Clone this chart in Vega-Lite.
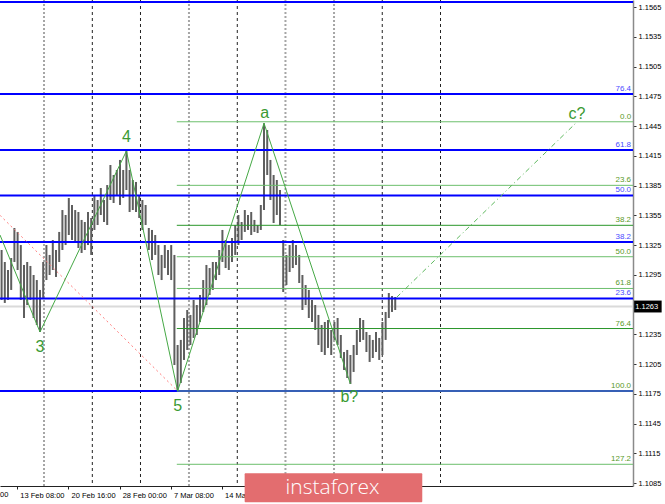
{
"$schema": "https://vega.github.io/schema/vega-lite/v6.json",
"width": 633, "height": 486,
"autosize": {"type": "none"},
"padding": {"left": 0, "top": 0, "right": 32, "bottom": 18},
"background": "white",
"config": {"view": {"stroke": null}},
"resolve": {"axis": {"x": "independent", "y": "independent"}},
"datasets": {
"candles": [
{"b":1,"hi":1.13200,"lo":1.12696},{"b":3,"hi":1.13079,"lo":1.12666},{"b":5,"hi":1.12998,"lo":1.12696},{"b":7,"hi":1.13119,"lo":1.12797},
{"b":9,"hi":1.13422,"lo":1.13079},{"b":11,"hi":1.13382,"lo":1.12998},{"b":13,"hi":1.13250,"lo":1.12696},{"b":15,"hi":1.13049,"lo":1.12514},
{"b":17,"hi":1.13079,"lo":1.12645},{"b":19,"hi":1.13039,"lo":1.12696},{"b":21,"hi":1.12948,"lo":1.12514},{"b":23,"hi":1.12897,"lo":1.12444},
{"b":25,"hi":1.12797,"lo":1.12373},{"b":27,"hi":1.13079,"lo":1.12716},{"b":29,"hi":1.13250,"lo":1.12897},{"b":31,"hi":1.13150,"lo":1.12948},
{"b":33,"hi":1.13301,"lo":1.12998},{"b":35,"hi":1.13200,"lo":1.12928},{"b":37,"hi":1.13382,"lo":1.13079},{"b":39,"hi":1.13603,"lo":1.13200},
{"b":41,"hi":1.13553,"lo":1.13250},{"b":43,"hi":1.13724,"lo":1.13351},{"b":45,"hi":1.13654,"lo":1.13301},{"b":47,"hi":1.13603,"lo":1.13271},
{"b":49,"hi":1.13583,"lo":1.13220},{"b":51,"hi":1.13503,"lo":1.13170},{"b":53,"hi":1.13482,"lo":1.13200},{"b":55,"hi":1.13583,"lo":1.13250},
{"b":57,"hi":1.13523,"lo":1.13150},{"b":59,"hi":1.13755,"lo":1.13402},{"b":61,"hi":1.13704,"lo":1.13452},{"b":63,"hi":1.13825,"lo":1.13553},
{"b":65,"hi":1.13704,"lo":1.13482},{"b":67,"hi":1.13855,"lo":1.13452},{"b":69,"hi":1.14057,"lo":1.13704},{"b":71,"hi":1.13956,"lo":1.13674},
{"b":73,"hi":1.14007,"lo":1.13755},{"b":75,"hi":1.14108,"lo":1.13654},{"b":77,"hi":1.14007,"lo":1.13724},{"b":79,"hi":1.14198,"lo":1.13805},
{"b":81,"hi":1.14007,"lo":1.13583},{"b":83,"hi":1.13906,"lo":1.13603},{"b":85,"hi":1.13886,"lo":1.13583},{"b":87,"hi":1.13755,"lo":1.13523},
{"b":89,"hi":1.13704,"lo":1.13402},{"b":91,"hi":1.13654,"lo":1.13452},{"b":93,"hi":1.13422,"lo":1.13200},{"b":95,"hi":1.13402,"lo":1.13099},
{"b":97,"hi":1.13351,"lo":1.13150},{"b":99,"hi":1.13250,"lo":1.12948},{"b":101,"hi":1.13150,"lo":1.12897},{"b":103,"hi":1.13250,"lo":1.13018},
{"b":105,"hi":1.13200,"lo":1.12948},{"b":107,"hi":1.13250,"lo":1.12897},{"b":109,"hi":1.13150,"lo":1.12040},{"b":111,"hi":1.12242,"lo":1.11778},
{"b":113,"hi":1.12293,"lo":1.11859},{"b":115,"hi":1.12514,"lo":1.12091},{"b":117,"hi":1.12595,"lo":1.12192},{"b":119,"hi":1.12545,"lo":1.12242},
{"b":121,"hi":1.12696,"lo":1.12313},{"b":123,"hi":1.12645,"lo":1.12343},{"b":125,"hi":1.12746,"lo":1.12474},{"b":127,"hi":1.12897,"lo":1.12575},
{"b":129,"hi":1.13049,"lo":1.12645},{"b":131,"hi":1.13018,"lo":1.12746},{"b":133,"hi":1.13079,"lo":1.12797},{"b":135,"hi":1.13079,"lo":1.12897},
{"b":137,"hi":1.13200,"lo":1.12948},{"b":139,"hi":1.13402,"lo":1.13079},{"b":141,"hi":1.13301,"lo":1.13018},{"b":143,"hi":1.13250,"lo":1.12998},
{"b":145,"hi":1.13321,"lo":1.13079},{"b":147,"hi":1.13452,"lo":1.13150},{"b":149,"hi":1.13553,"lo":1.13250},{"b":151,"hi":1.13482,"lo":1.13301},
{"b":153,"hi":1.13603,"lo":1.13382},{"b":155,"hi":1.13553,"lo":1.13402},{"b":157,"hi":1.13583,"lo":1.13351},{"b":159,"hi":1.13503,"lo":1.13382},
{"b":161,"hi":1.13452,"lo":1.13371},{"b":163,"hi":1.13654,"lo":1.13402},{"b":165,"hi":1.14478,"lo":1.13603},{"b":167,"hi":1.14410,"lo":1.13956},
{"b":169,"hi":1.14108,"lo":1.13704},{"b":171,"hi":1.13956,"lo":1.13472},{"b":173,"hi":1.13906,"lo":1.13553},{"b":175,"hi":1.13805,"lo":1.13452},
{"b":177,"hi":1.13301,"lo":1.12776},{"b":179,"hi":1.13150,"lo":1.12847},{"b":181,"hi":1.13250,"lo":1.12978},{"b":183,"hi":1.13301,"lo":1.13018},
{"b":185,"hi":1.13250,"lo":1.13049},{"b":187,"hi":1.13150,"lo":1.12867},{"b":189,"hi":1.12948,"lo":1.12595},{"b":191,"hi":1.12847,"lo":1.12645},
{"b":193,"hi":1.12797,"lo":1.12514},{"b":195,"hi":1.12696,"lo":1.12474},{"b":197,"hi":1.12645,"lo":1.12393},{"b":199,"hi":1.12545,"lo":1.12242},
{"b":201,"hi":1.12444,"lo":1.12171},{"b":203,"hi":1.12474,"lo":1.12141},{"b":205,"hi":1.12494,"lo":1.12212},{"b":207,"hi":1.12393,"lo":1.12141},
{"b":209,"hi":1.12474,"lo":1.12293},{"b":211,"hi":1.12514,"lo":1.12242},{"b":213,"hi":1.12343,"lo":1.12111},{"b":215,"hi":1.12171,"lo":1.11990},
{"b":217,"hi":1.12192,"lo":1.11909},{"b":219,"hi":1.12141,"lo":1.11849},{"b":221,"hi":1.12242,"lo":1.11970},{"b":223,"hi":1.12393,"lo":1.12141},
{"b":225,"hi":1.12514,"lo":1.12272},{"b":227,"hi":1.12494,"lo":1.12293},{"b":229,"hi":1.12373,"lo":1.12171},{"b":231,"hi":1.12343,"lo":1.12071},
{"b":233,"hi":1.12293,"lo":1.12111},{"b":235,"hi":1.12373,"lo":1.12171},{"b":237,"hi":1.12313,"lo":1.12091},{"b":239,"hi":1.12474,"lo":1.12141},
{"b":241,"hi":1.12575,"lo":1.12293},{"b":243,"hi":1.12766,"lo":1.12514},{"b":245,"hi":1.12736,"lo":1.12575},{"b":247,"hi":1.12726,"lo":1.12595}
],
"waves": [{"b":0,"p":1.13351},{"b":25,"p":1.12373},{"b":79,"p":1.14198},{"b":111,"p":1.11778},{"b":165,"p":1.14478},{"b":219,"p":1.11849}],
"target": [{"b":247.9,"p":1.12723},{"b":360.4,"p":1.14488}],
"red": [{"b":0,"p":1.13550},{"b":111,"p":1.11778}],
"waveLabels": [{"t":"3","b":25,"p":1.12222},{"t":"4","b":79,"p":1.14343},{"t":"5","b":111,"p":1.11627},{"t":"a","b":165.4,"p":1.14580},{"t":"b?","b":218.3,"p":1.11718},{"t":"c?","b":360.6,"p":1.14575}],
"fibGreen": [{"lvl":"0.0","p":1.14493,"b0":110.5},{"lvl":"23.6","p":1.13852,"b0":110.5},{"lvl":"38.2","p":1.13449,"b0":110.5},{"lvl":"50.0","p":1.13132,"b0":110.5},{"lvl":"61.8","p":1.12812,"b0":110.5},{"lvl":"76.4","p":1.12408,"b0":110.5},{"lvl":"100.0","p":1.11778,"b0":110.5},{"lvl":"127.2","p":1.11039,"b0":110.5}],
"fibBlue": [{"lvl":"100.0","p":1.15701},{"lvl":"76.4","p":1.14773},{"lvl":"61.8","p":1.14208},{"lvl":"50.0","p":1.13750},{"lvl":"38.2","p":1.13281},{"lvl":"23.6","p":1.12711},{"lvl":"0.0","p":1.11778}],
"sepDark": [{"b":57.7},{"b":87.8},{"b":148.3},{"b":238.9},{"b":275.3}],
"sepGray": [{"b":27.5},{"b":118.1},{"b":178.4},{"b":208.75}],
"last": [{"t":"1.1263","p":1.1263}],
"cutLabel": [{"t":"00"}],
"logo": [{"t":"instaforex"}]
},
"layer": [
{"data":{"name":"last"},"mark":{"type":"rule","color":"#dadada","strokeWidth":2},
 "encoding":{"y":{"field":"p","type":"quantitative","scale":{"domain":[1.1082,1.15721],"nice":false,"zero":false},"axis":null}}},
{"data":{"name":"sepGray"},"mark":{"type":"rule","color":"#a6a6a6","strokeWidth":2,"strokeDash":[2,2]},
 "encoding":{"x":{"field":"b","type":"quantitative","scale":{"domain":[0,395.6],"nice":false,"zero":false},"axis":null}}},
{"data":{"name":"sepDark"},"mark":{"type":"rule","color":"#222222","strokeWidth":1,"strokeDash":[3,3]},
 "encoding":{"x":{"field":"b","type":"quantitative","scale":{"domain":[0,395.6],"nice":false,"zero":false},"axis":null}}},
{"data":{"name":"candles"},"mark":{"type":"rule","color":"#5e5e5e","strokeWidth":2},
 "encoding":{
  "x":{"field":"b","type":"quantitative","scale":{"domain":[0,395.6],"nice":false,"zero":false},
   "axis":{"orient":"bottom","title":null,"grid":false,"values":[10.8,42.8,74.8,106.8,138.8],
    "labelExpr":"datum.value < 20 ? '13 Feb 08:00' : datum.value < 50 ? '20 Feb 16:00' : datum.value < 80 ? '28 Feb 00:00' : datum.value < 110 ? '7 Mar 08:00' : '14 Mar 16:00'",
    "labelAlign":"left","labelBaseline":"top","labelOffset":2.5,"labelPadding":2,"labelFlush":false,"labelOverlap":false,
    "labelFont":"Liberation Sans","labelFontSize":7.5,"labelColor":"#000000",
    "domainColor":"#222222","domainWidth":1,"tickColor":"#222222","tickSize":3}},
  "y":{"field":"lo","type":"quantitative","scale":{"domain":[1.1082,1.15721],"nice":false,"zero":false},
   "axis":{"orient":"right","title":null,"grid":false,
    "values":[1.1085,1.1115,1.1145,1.1175,1.1205,1.1235,1.1295,1.1325,1.1355,1.1385,1.1415,1.1445,1.1475,1.1505,1.1535,1.1565],
    "format":".4f","labelAlign":"left","labelBaseline":"middle","labelPadding":2,"labelOverlap":false,"labelFlush":false,
    "labelFont":"Liberation Sans","labelFontSize":7.5,"labelColor":"#000000",
    "domainColor":"#8a8a8a","domainWidth":1.5,"tickColor":"#333333","tickSize":3}},
  "y2":{"field":"hi"}}},
{"data":{"name":"fibBlue"},"mark":{"type":"rule","color":"#0000ff","strokeWidth":2},
 "encoding":{"y":{"field":"p","type":"quantitative","scale":{"domain":[1.1082,1.15721],"nice":false,"zero":false},"axis":null}}},
{"data":{"name":"fibGreen"},"mark":{"type":"rule","strokeWidth":1},
 "encoding":{"x":{"field":"b0","type":"quantitative","scale":{"domain":[0,395.6],"nice":false,"zero":false},"axis":null},
  "x2":{"datum":395.6},
  "y":{"field":"p","type":"quantitative","scale":{"domain":[1.1082,1.15721],"nice":false,"zero":false},"axis":null},
  "color":{"field":"lvl","type":"nominal","legend":null,"scale":{"domain":["0.0","23.6","38.2","50.0","61.8","76.4","100.0","127.2"],"range":["#6cbf6c","#6cbf6c","#2a962a","#6cbf6c","#6cbf6c","#2a962a","#6cbf6c","#6cbf6c"]}}}},
{"data":{"name":"red"},"mark":{"type":"line","color":"#ff7b7b","strokeWidth":1,"strokeDash":[2,3]},
 "encoding":{"x":{"field":"b","type":"quantitative","scale":{"domain":[0,395.6],"nice":false,"zero":false},"axis":null},
  "y":{"field":"p","type":"quantitative","scale":{"domain":[1.1082,1.15721],"nice":false,"zero":false},"axis":null}}},
{"data":{"name":"waves"},"mark":{"type":"line","color":"#45a845","strokeWidth":1},
 "encoding":{"x":{"field":"b","type":"quantitative","scale":{"domain":[0,395.6],"nice":false,"zero":false},"axis":null},
  "y":{"field":"p","type":"quantitative","scale":{"domain":[1.1082,1.15721],"nice":false,"zero":false},"axis":null}}},
{"data":{"name":"target"},"mark":{"type":"line","color":"#5cb85c","strokeWidth":1,"strokeDash":[5,3,1,3]},
 "encoding":{"x":{"field":"b","type":"quantitative","scale":{"domain":[0,395.6],"nice":false,"zero":false},"axis":null},
  "y":{"field":"p","type":"quantitative","scale":{"domain":[1.1082,1.15721],"nice":false,"zero":false},"axis":null}}},
{"data":{"name":"waveLabels"},"mark":{"type":"text","color":"#3a9a32","font":"Liberation Sans","fontSize":16,"align":"center","baseline":"middle"},
 "encoding":{"x":{"field":"b","type":"quantitative","scale":{"domain":[0,395.6],"nice":false,"zero":false},"axis":null},
  "y":{"field":"p","type":"quantitative","scale":{"domain":[1.1082,1.15721],"nice":false,"zero":false},"axis":null},
  "text":{"field":"t"}}},
{"data":{"name":"fibGreen"},"mark":{"type":"text","color":"#5a9a2a","font":"Liberation Sans","fontSize":8,"align":"right","baseline":"bottom","dy":-1},
 "encoding":{"x":{"datum":394.4,"type":"quantitative","scale":{"domain":[0,395.6],"nice":false,"zero":false},"axis":null},
  "y":{"field":"p","type":"quantitative","scale":{"domain":[1.1082,1.15721],"nice":false,"zero":false},"axis":null},
  "text":{"field":"lvl"}}},
{"data":{"name":"fibBlue"},"transform":[{"filter":"datum.lvl != '100.0' && datum.lvl != '0.0'"}],"mark":{"type":"text","color":"#4a4aff","font":"Liberation Sans","fontSize":8,"align":"right","baseline":"bottom","dy":-1},
 "encoding":{"x":{"datum":394.4,"type":"quantitative","scale":{"domain":[0,395.6],"nice":false,"zero":false},"axis":null},
  "y":{"field":"p","type":"quantitative","scale":{"domain":[1.1082,1.15721],"nice":false,"zero":false},"axis":null},
  "text":{"field":"lvl"}}},
{"data":{"name":"cutLabel"},"mark":{"type":"text","color":"#000000","font":"Liberation Sans","fontSize":7.5,"align":"left","baseline":"top"},
 "encoding":{"x":{"datum":0,"type":"quantitative","scale":{"domain":[0,395.6],"nice":false,"zero":false},"axis":null},
  "y":{"datum":1.1077,"type":"quantitative","scale":{"domain":[1.1082,1.15721],"nice":false,"zero":false},"axis":null},
  "text":{"field":"t"}}},
{"data":{"name":"last"},"mark":{"type":"rect","color":"#000000"},
 "encoding":{"x":{"datum":396.3,"type":"quantitative","scale":{"domain":[0,395.6],"nice":false,"zero":false},"axis":null},
  "x2":{"datum":413.5},
  "y":{"datum":1.1269,"type":"quantitative","scale":{"domain":[1.1082,1.15721],"nice":false,"zero":false},"axis":null},
  "y2":{"datum":1.1257}}},
{"data":{"name":"last"},"mark":{"type":"text","color":"#ffffff","font":"Liberation Sans","fontSize":7.5,"align":"left","baseline":"middle"},
 "encoding":{"x":{"datum":397,"type":"quantitative","scale":{"domain":[0,395.6],"nice":false,"zero":false},"axis":null},
  "y":{"field":"p","type":"quantitative","scale":{"domain":[1.1082,1.15721],"nice":false,"zero":false},"axis":null},
  "text":{"field":"t"}}},
{"data":{"name":"logo"},"mark":{"type":"rect","color":"#e36d6f","cornerRadius":1},
 "encoding":{"x":{"datum":152.9,"type":"quantitative","scale":{"domain":[0,395.6],"nice":false,"zero":false},"axis":null},
  "x2":{"datum":263.9},
  "y":{"datum":1.10948,"type":"quantitative","scale":{"domain":[1.1082,1.15721],"nice":false,"zero":false},"axis":null},
  "y2":{"datum":1.10656}}},
{"data":{"name":"logo"},"mark":{"type":"text","color":"#ffffff","font":"Open Sans","fontWeight":300,"fontSize":21,"align":"center","baseline":"middle"},
 "encoding":{"x":{"datum":207.8,"type":"quantitative","scale":{"domain":[0,395.6],"nice":false,"zero":false},"axis":null},
  "y":{"datum":1.1080,"type":"quantitative","scale":{"domain":[1.1082,1.15721],"nice":false,"zero":false},"axis":null},
  "text":{"field":"t"}}}
]
}
